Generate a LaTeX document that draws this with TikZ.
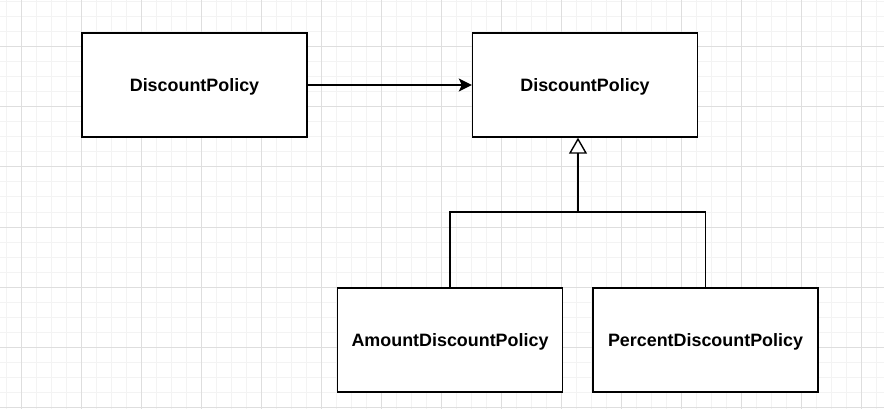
\documentclass[tikz,border=0pt]{standalone}
\usepackage{fontspec}
\setmainfont{Liberation Sans}
\usetikzlibrary{arrows.meta}
\definecolor{gridminor}{HTML}{F3F3F3}
\definecolor{gridmajor}{HTML}{DEDEDE}
\begin{document}
\begin{tikzpicture}[x=1pt,y=-1pt,
  box/.style={draw=black, line width=1.4pt, fill=white, minimum width=225pt, minimum height=104pt, inner sep=0pt},
  lbl/.style={font=\fontsize{17.9}{20}\selectfont\bfseries, inner sep=0pt, anchor=base},
  conn/.style={line width=1.4pt, draw=black},
  minorline/.style={draw=gridminor, line width=1pt},
  majorline/.style={draw=gridmajor, line width=1pt}]
\useasboundingbox (0,0) rectangle (884,409);
\fill[white] (0,0) rectangle (884,409);
\foreach \x in {6,21,...,884} \draw[minorline] (\x,0) -- (\x,409);
\foreach \y in {2,17,...,409} \draw[minorline] (0,\y) -- (884,\y);
\foreach \x in {21,81,...,884} \draw[majorline] (\x,0) -- (\x,409);
\foreach \y in {47,107,...,409} \draw[majorline] (0,\y) -- (884,\y);
\node[box] (b1) at (194.5,85) {};
\node[box] (b2) at (585,85) {};
\node[box] (b3) at (450,340) {};
\node[box] (b4) at (705.5,340) {};
\node[lbl] (t1) at ([yshift=-6.2pt]b1.center) {DiscountPolicy};
\node[lbl] (t2) at ([yshift=-6.2pt]b2.center) {DiscountPolicy};
\node[lbl] (t3) at ([yshift=-6.2pt]b3.center) {AmountDiscountPolicy};
\node[lbl] (t4) at ([yshift=-6.2pt]b4.center) {PercentDiscountPolicy};
\coordinate (j) at (578,212);
\draw[conn, -{Stealth[length=13pt,width=13pt,inset=3pt]}] (b1) -- (b2);
\draw[conn] (b3.north) |- (j) -| (b4.north);
\draw[conn, -{Triangle[open, fill=white, length=16pt, width=18pt]}] (j) -- (j |- b2.south);
\end{tikzpicture}
\end{document}
